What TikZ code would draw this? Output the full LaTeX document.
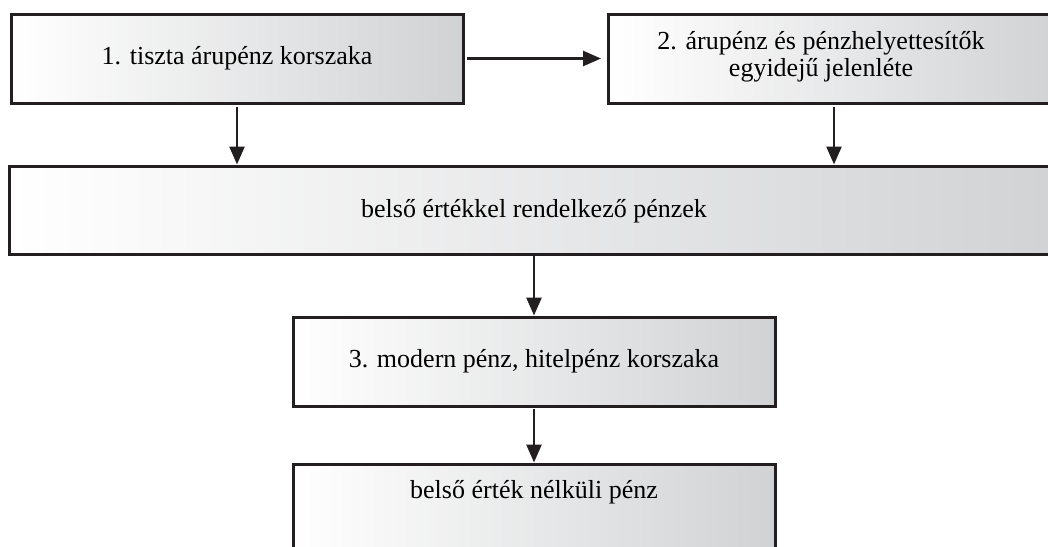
\documentclass[tikz,border=0pt]{standalone}
\usepackage{fontspec}
\setmainfont{Liberation Serif}
\usetikzlibrary{arrows.meta}
\definecolor{edge}{HTML}{231F20}
\definecolor{gradR}{HTML}{D1D2D4}
\tikzset{
  box/.style={draw=edge, line width=3pt, left color=white, right color=gradR,
    rectangle, inner sep=0pt, outer sep=0pt, align=center,
    font=\fontsize{26pt}{27pt}\selectfont},
  txt/.style={font=\fontsize{26pt}{27pt}\selectfont, inner sep=0pt, align=center},
  arr/.style={draw=edge, line width=2.6pt, -{Triangle[length=18pt,width=15pt]}}
}
\begin{document}
\begin{tikzpicture}[x=1pt,y=-1pt]
\useasboundingbox (0,0) rectangle (1048,546);
\clip (0,0) rectangle (1048,546);
\node[box, minimum width=452pt, minimum height=89pt] (b1) at (237,58.5) {1. tiszta árupénz korszaka};
\node[box, minimum width=452pt, minimum height=89pt, anchor=west] (b2) at (608,58.5) {};
\node[txt] (t2) at (821,57) {2. árupénz és pénzhelyettesítők\\egyidejű jelenléte};
\node[box, minimum width=1060pt, minimum height=88pt, anchor=north west] (bb) at (9,166) {};
\node[txt] (tb) at (534,211) {belső értékkel rendelkező pénzek};
\node[box, minimum width=482pt, minimum height=89pt] (b3) at (534,361.5) {3. modern pénz, hitelpénz korszaka};
\node[box, minimum width=482pt, minimum height=89pt, anchor=north] (b4) at (534,464) {};
\node[txt] (t4) at (534,492) {belső érték nélküli pénz};
\draw[arr, shorten <=4pt, shorten >=7pt] (b1.east) -- (b2.west);
\draw[arr, shorten <=4pt, shorten >=1.5pt] (b1.south) -- (b1.south |- bb.north);
\draw[arr, shorten <=4pt, shorten >=1.5pt] (b2.south) -- (b2.south |- bb.north);
\draw[arr, shorten <=2pt, shorten >=1.5pt] (b3.north |- bb.south) -- (b3.north);
\draw[arr, shorten <=3pt, shorten >=1.5pt] (b3.south) -- (b4.north);
\end{tikzpicture}
\end{document}
